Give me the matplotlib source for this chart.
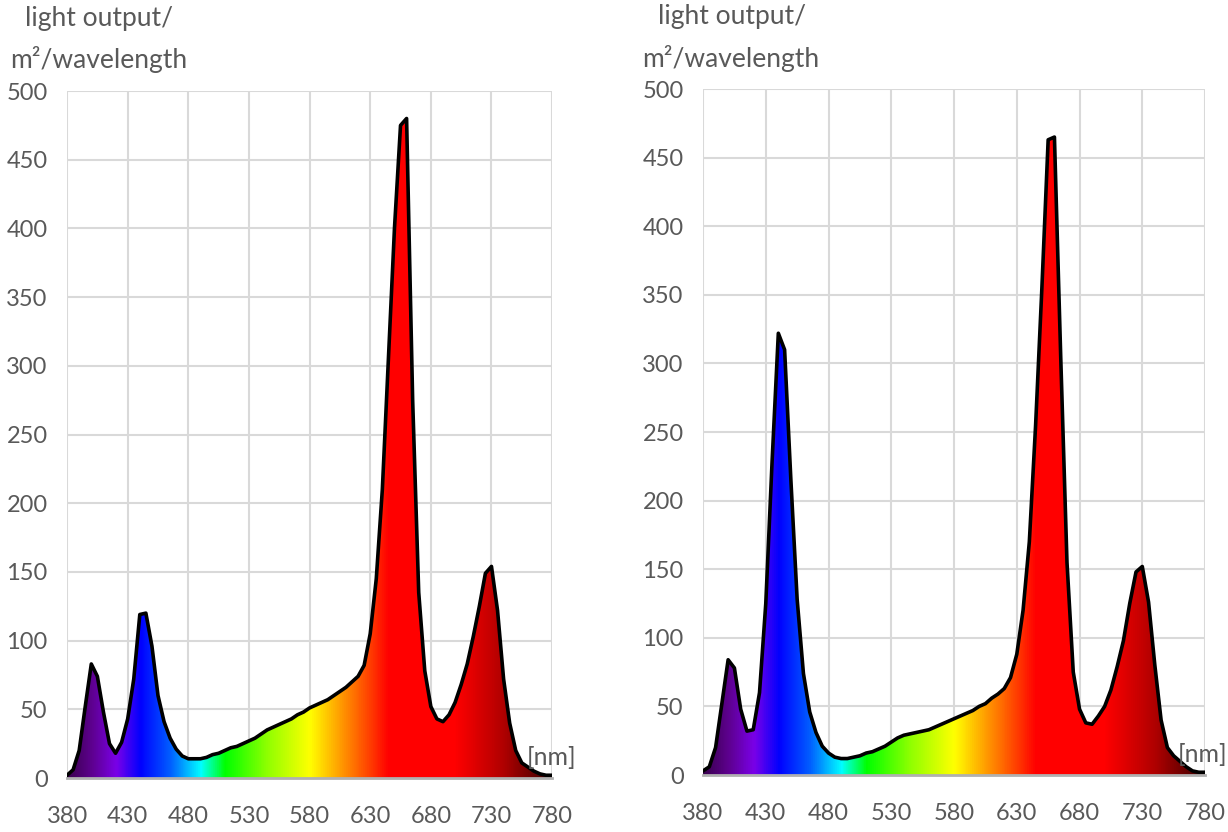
import numpy as np
import matplotlib
matplotlib.use("Agg")
import matplotlib.pyplot as plt
from matplotlib.colors import LinearSegmentedColormap

plt.rcParams['font.family'] = ['Lato', 'DejaVu Sans']

# wavelength grid [nm] and light output per panel
wavelength = np.arange(380, 781, 5)

left_values = [2, 6, 20, 52, 83, 74, 48, 25, 18, 26,
               43, 72, 119, 120, 96, 60, 41, 29, 21, 16,
               14, 14, 14, 15, 17, 18, 20, 22, 23, 25,
               27, 29, 32, 35, 37, 39, 41, 43, 46, 48,
               51, 53, 55, 57, 60, 63, 66, 70, 74, 82,
               105, 145, 210, 305, 400, 475, 480, 275, 135, 78,
               52, 43, 41, 46, 55, 68, 83, 103, 125, 149,
               154, 122, 72, 40, 20, 11, 8, 5, 3, 2, 2]

right_values = [3, 6, 20, 52, 84, 78, 48, 32, 33, 60,
                125, 228, 322, 310, 215, 128, 74, 46, 31, 21,
                16, 13, 12, 12, 13, 14, 16, 17, 19, 21,
                24, 27, 29, 30, 31, 32, 33, 35, 37, 39,
                41, 43, 45, 47, 50, 52, 56, 59, 63, 71,
                88, 120, 170, 255, 355, 463, 465, 305, 155, 75,
                48, 38, 37, 43, 50, 62, 79, 98, 125, 148,
                152, 126, 80, 40, 20, 14, 10, 6, 3, 2, 2]

x_ticks = list(range(380, 781, 50))
y_ticks = list(range(0, 501, 50))

# colour of the light along the spectrum
spectrum_stops = [(380, '#3a004e'), (400, '#5e0090'), (420, '#7a00e8'),
                  (440, '#0000ff'), (465, '#0060ff'), (490, '#00ffff'),
                  (510, '#00ff00'), (545, '#90ff00'), (580, '#ffff00'),
                  (600, '#ffb000'), (625, '#ff5000'), (645, '#ff0000'),
                  (700, '#ff0000'), (740, '#b00000'), (780, '#3a0000')]
spec_cmap = LinearSegmentedColormap.from_list(
    'spectrum', [((w - 380) / 400, c) for w, c in spectrum_stops])

grey = '#595959'


def draw_panel(ax, values):
    ax.set_xlim(380, 780)
    ax.set_ylim(0, 500)
    grad = np.linspace(380, 780, 1000).reshape(1, -1)
    im = ax.imshow(grad, cmap=spec_cmap, extent=[380, 780, 0, 500],
                   aspect='auto', origin='lower', zorder=2)
    poly = ax.fill_between(wavelength, values, 0, color='none', lw=0)
    im.set_clip_path(poly.get_paths()[0], ax.transData)
    ax.plot(wavelength, values, color='black', lw=2.6, zorder=3)

    ax.set_xticks(x_ticks)
    ax.set_yticks(y_ticks)
    ax.grid(color='#d9d9d9', lw=1.5)
    ax.set_axisbelow(True)
    for s in ['top', 'right', 'left']:
        ax.spines[s].set_visible(False)
    ax.spines['bottom'].set_color('#b0b0b0')
    ax.spines['bottom'].set_linewidth(2)
    ax.spines['bottom'].set_zorder(4)
    ax.tick_params(length=0, labelsize=17, colors=grey)
    ax.tick_params(axis='x', pad=20)
    ax.tick_params(axis='y', pad=14)


fig = plt.figure(figsize=(12.28, 8.32), dpi=100)
ax1 = fig.add_axes([0.0546, 0.0649, 0.395, 0.8257])
ax2 = fig.add_axes([0.5725, 0.0685, 0.4088, 0.8245])

draw_panel(ax1, left_values)
draw_panel(ax2, right_values)

# axis titles
fig.text(0.020, 0.978, 'light output/', fontsize=19, color=grey, va='center', ha='left')
fig.text(0.008, 0.928, 'm²/wavelength', fontsize=19, color=grey, va='center', ha='left')
fig.text(0.536, 0.980, 'light output/', fontsize=19, color=grey, va='center', ha='left')
fig.text(0.523, 0.930, 'm²/wavelength', fontsize=19, color=grey, va='center', ha='left')
fig.text(0.429, 0.090, '[nm]', fontsize=18, color=grey, va='center', ha='left')
fig.text(0.959, 0.093, '[nm]', fontsize=18, color=grey, va='center', ha='left')

fig.savefig('out.png', dpi=100)
